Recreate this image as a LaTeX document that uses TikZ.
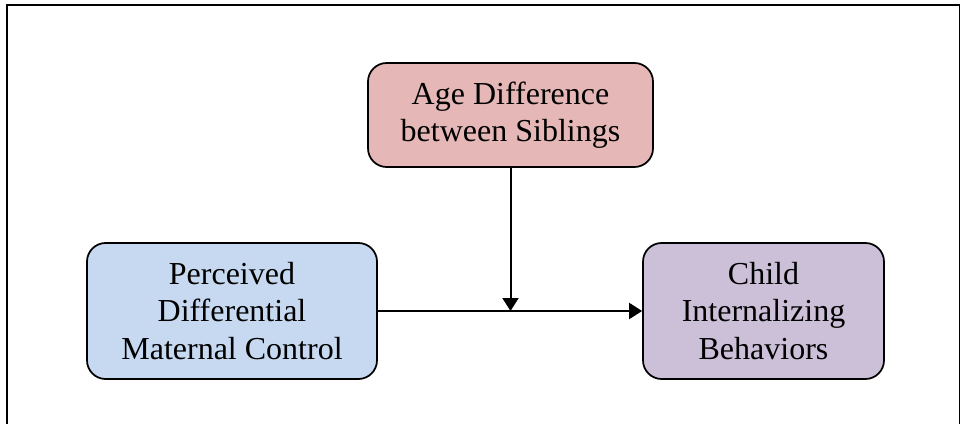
\documentclass[tikz,border=0pt]{standalone}
\usepackage{fontspec}
\setmainfont{Liberation Serif}
\usetikzlibrary{arrows.meta}

\definecolor{agefill}{HTML}{E5B8B7}
\definecolor{controlfill}{HTML}{C6D9F0}
\definecolor{childfill}{HTML}{CCC0D9}

\begin{document}
\begin{tikzpicture}[x=0.75pt, y=-0.75pt, >={Triangle[length=9.75pt,width=12pt]},
    varbox/.style={draw, line width=1.3pt, rounded corners=14pt, align=center,
        inner sep=0pt, font=\fontsize{24}{28}\selectfont},
    link/.style={line width=1.5pt}]

        \useasboundingbox (0,0) rectangle (961,424);

        % Frame
        \draw[line width=1.4pt] (6.7,440) -- (6.7,5) -- (959.5,5) -- (959.5,440);

        % Boxes
        \node[varbox, fill=agefill, minimum width=285*0.75pt, minimum height=104*0.75pt]
            (age) at (510.5,115) {Age Difference\\between Siblings};
        \node[varbox, fill=controlfill, minimum width=290*0.75pt, minimum height=136*0.75pt]
            (control) at (232,311) {Perceived\\Differential\\Maternal Control};
        \node[varbox, fill=childfill, minimum width=241*0.75pt, minimum height=136*0.75pt]
            (child) at (763.5,311) {Child\\Internalizing\\Behaviors};

        % Arrows
        \coordinate (meet) at (age.south |- control.east);
        \draw[link, ->] (control.east) -- (child.west);
        \draw[link, ->] (age.south) -- (meet);

    \end{tikzpicture}
\end{document}
